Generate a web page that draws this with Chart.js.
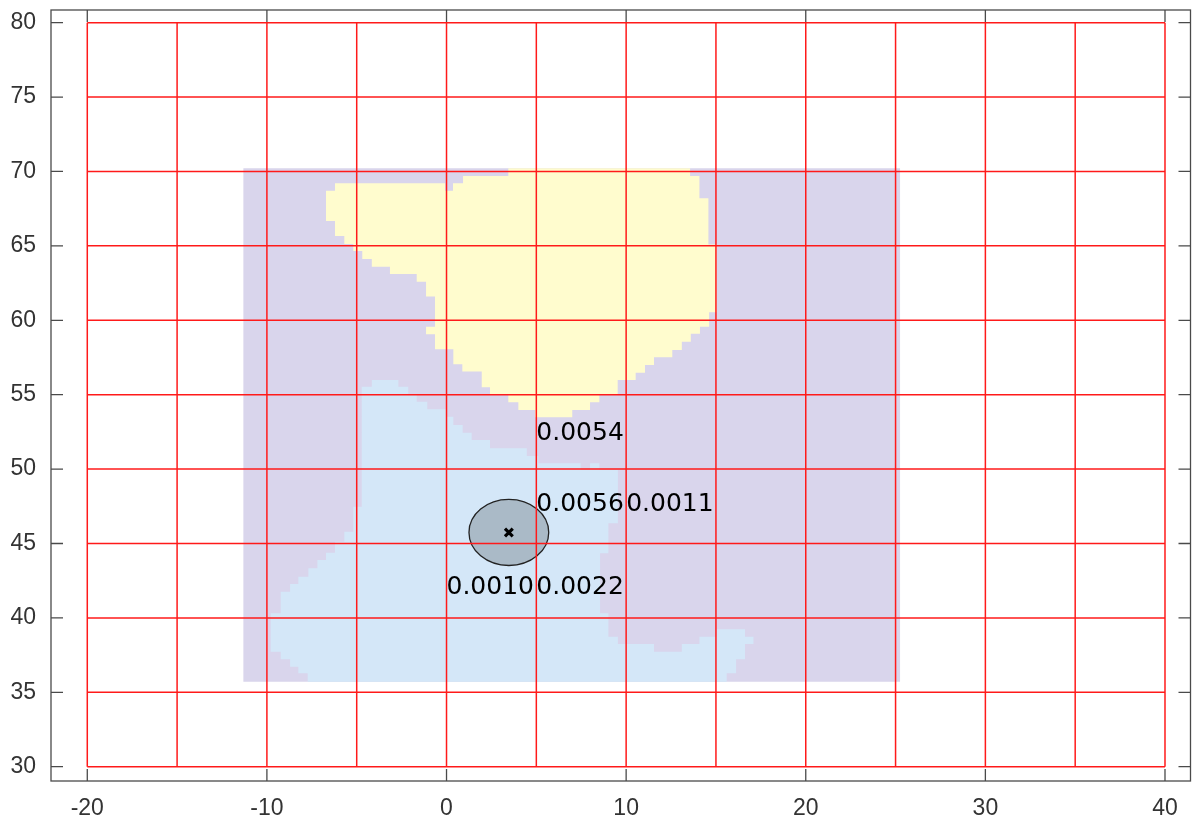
<!DOCTYPE html>
<html>
<head>
<meta charset="utf-8">
<script src="https://cdn.jsdelivr.net/npm/chart.js@4.4.1/dist/chart.umd.min.js"></script>
<style>
html, body { margin: 0; padding: 0; background: #fff; overflow: hidden; }
#wrap { width: 1193px; height: 819px; position: relative; }
canvas { display: block; }
</style>
</head>
<body>
<div id="wrap"><canvas id="myChart"></canvas></div>
<script>
// axis ticks and red reference grid
const xTicks = [-20, -10, 0, 10, 20, 30, 40];
const yTicks = [30, 35, 40, 45, 50, 55, 60, 65, 70, 75, 80];
const gridX = [-20, -15, -10, -5, 0, 5, 10, 15, 20, 25, 30, 35, 40];
const gridY = [30, 35, 40, 45, 50, 55, 60, 65, 70, 75, 80];

// background field (lavender rectangle)
const boxX = [-11.31, 25.25, 25.25, -11.31];
const boxY = [70.21, 70.21, 35.71, 35.71];

// upper region (yellow)
const yellowX = [-6.21, -0.08, -0.08, 0.36, 0.36, 0.92, 0.92, 3.44, 3.44, 13.56, 13.56, 14.08, 14.08, 14.58, 14.58, 15.04, 15.04, 14.62, 14.62, 14.11, 14.11, 13.60, 13.60, 13.10, 13.10, 12.57, 12.57, 11.55, 11.55, 11.05, 11.05, 10.53, 10.53, 9.53, 9.53, 8.51, 8.51, 7.99, 7.99, 7.00, 7.00, 4.93, 4.93, 4.00, 4.00, 3.44, 3.44, 2.42, 2.42, 1.96, 1.96, 0.88, 0.88, 0.38, 0.38, -0.64, -0.64, -1.14, -1.14, -0.64, -0.64, -1.14, -1.14, -1.66, -1.66, -3.15, -3.15, -4.16, -4.16, -4.69, -4.69, -5.19, -5.19, -5.69, -5.69, -6.21, -6.21, -6.71, -6.71, -6.21, -6.21];
const yellowY = [69.21, 69.21, 68.71, 68.71, 69.21, 69.21, 69.70, 69.70, 70.21, 70.21, 69.70, 69.70, 68.20, 68.20, 65.10, 65.10, 60.54, 60.54, 59.57, 59.57, 59.10, 59.10, 58.56, 58.56, 58.00, 58.00, 57.51, 57.51, 57.00, 57.00, 56.48, 56.48, 55.99, 55.99, 55.03, 55.03, 54.49, 54.49, 53.97, 53.97, 53.48, 53.48, 53.97, 53.97, 54.49, 54.49, 55.03, 55.03, 55.50, 55.50, 56.55, 56.55, 57.04, 57.04, 58.05, 58.05, 59.06, 59.06, 59.57, 59.57, 61.59, 61.59, 62.59, 62.59, 63.11, 63.11, 63.60, 63.60, 64.12, 64.12, 64.66, 64.66, 65.13, 65.13, 65.67, 65.67, 66.67, 66.67, 68.71, 68.71, 69.21];

// lower region (light blue)
const blueX = [-4.72, -4.16, -4.16, -2.68, -2.68, -2.13, -2.13, -1.66, -1.66, -1.07, -1.07, -0.03, -0.03, 0.38, 0.38, 0.90, 0.90, 1.40, 1.40, 2.42, 2.42, 4.47, 4.47, 5.11, 5.11, 7.47, 7.47, 7.99, 7.99, 8.51, 8.51, 9.54, 9.54, 9.01, 9.01, 8.55, 8.55, 9.01, 9.01, 9.54, 9.54, 11.55, 11.55, 13.10, 13.10, 14.08, 14.08, 15.04, 15.04, 16.62, 16.62, 17.09, 17.09, 16.62, 16.62, 16.12, 16.12, 15.60, 15.60, -7.73, -7.73, -8.25, -8.25, -8.71, -8.71, -9.23, -9.23, -9.79, -9.79, -9.23, -9.23, -8.71, -8.71, -8.25, -8.25, -7.69, -7.69, -7.19, -7.19, -6.71, -6.71, -6.21, -6.21, -5.69, -5.69, -5.19, -5.19, -4.72, -4.72];
const blueY = [55.54, 55.54, 55.99, 55.99, 55.54, 55.54, 55.05, 55.05, 54.53, 54.53, 54.02, 54.02, 53.52, 53.52, 52.96, 52.96, 52.45, 52.45, 51.96, 51.96, 51.40, 51.40, 50.88, 50.88, 50.39, 50.39, 49.94, 49.94, 50.39, 50.39, 49.94, 49.94, 46.36, 46.36, 44.34, 44.34, 40.31, 40.31, 38.74, 38.74, 38.25, 38.25, 37.73, 37.73, 38.25, 38.25, 38.74, 38.74, 39.23, 39.23, 38.74, 38.74, 38.25, 38.25, 37.22, 37.22, 36.28, 36.28, 35.71, 35.71, 36.28, 36.28, 36.72, 36.72, 37.22, 37.22, 37.73, 37.73, 40.31, 40.31, 41.76, 41.76, 42.28, 42.28, 42.77, 42.77, 43.33, 43.33, 43.89, 43.89, 44.38, 44.38, 45.12, 45.12, 45.79, 45.79, 47.47, 47.47, 55.54];

// estimate and its circle
const centreX = [3.47];
const centreY = [45.74];
const circleRadius = 2.22;

// value labels (left edge x, vertical centre y)
const labelText = ['0.0054', '0.0056', '0.0011', '0.0010', '0.0022'];
const labelX = [5, 5, 10, 0, 5];
const labelY = [52.55, 47.76, 47.76, 42.24, 42.24];

const toPoints = (xs, ys) => xs.map((x, i) => ({ x: x, y: ys[i] }));

const region = (label, xs, ys, colour, order) => ({
    label: label,
    data: toPoints(xs, ys),
    showLine: true,
    fill: 'shape',
    backgroundColor: colour,
    borderColor: 'transparent',
    borderWidth: 0,
    pointRadius: 0,
    tension: 0,
    order: order
});

const datasets = [
    region('field', boxX, boxY, 'rgb(217, 213, 236)', 6),
    region('upper', yellowX, yellowY, 'rgb(255, 252, 206)', 5),
    region('lower', blueX, blueY, 'rgb(212, 231, 248)', 4)
];

gridX.forEach(gx => {
    datasets.push({
        data: [{ x: gx, y: gridY[0] }, { x: gx, y: gridY[gridY.length - 1] }],
        showLine: true, borderColor: '#ff1a1a', borderWidth: 1.5,
        pointRadius: 0, order: 3
    });
});
gridY.forEach(gy => {
    datasets.push({
        data: [{ x: gridX[0], y: gy }, { x: gridX[gridX.length - 1], y: gy }],
        showLine: true, borderColor: '#ff1a1a', borderWidth: 1.5,
        pointRadius: 0, order: 3
    });
});

datasets.push({
    label: 'estimate',
    data: toPoints(centreX, centreY),
    pointStyle: 'crossRot',
    pointRadius: 5.5,
    pointBorderWidth: 3.2,
    pointBorderColor: '#000',
    showLine: false,
    order: 1
});

// circle drawn right after the lower region, below the grid
const circlePlugin = {
    id: 'circle',
    afterDatasetDraw(chart, args) {
        if (chart.data.datasets[args.index].label !== 'lower') return;
        const { ctx, scales: { x, y } } = chart;
        const cx = x.getPixelForValue(centreX[0]);
        const cy = y.getPixelForValue(centreY[0]);
        const rx = Math.abs(x.getPixelForValue(centreX[0] + circleRadius) - cx);
        const ry = Math.abs(y.getPixelForValue(centreY[0] + circleRadius) - cy);
        ctx.save();
        ctx.beginPath();
        ctx.ellipse(cx, cy, rx, ry, 0, 0, Math.PI * 2);
        ctx.fillStyle = 'rgb(170, 186, 199)';
        ctx.fill();
        ctx.lineWidth = 1.3;
        ctx.strokeStyle = '#222';
        ctx.stroke();
        ctx.restore();
    }
};

const labelPlugin = {
    id: 'valueLabels',
    afterDatasetsDraw(chart) {
        const { ctx, scales: { x, y } } = chart;
        ctx.save();
        ctx.font = '25px "DejaVu Sans", sans-serif';
        ctx.fillStyle = '#000';
        ctx.textAlign = 'left';
        ctx.textBaseline = 'alphabetic';
        labelText.forEach((t, i) => {
            ctx.fillText(t, x.getPixelForValue(labelX[i]), y.getPixelForValue(labelY[i]) + 9);
        });
        ctx.restore();
    }
};

// box round the plot with inward tick marks
const framePlugin = {
    id: 'frame',
    afterDraw(chart) {
        const { ctx, chartArea: a, scales: { x, y } } = chart;
        const len = 12;
        ctx.save();
        ctx.strokeStyle = '#4a4a4a';
        ctx.lineWidth = 1.3;
        ctx.strokeRect(a.left, a.top, a.right - a.left, a.bottom - a.top);
        ctx.beginPath();
        xTicks.forEach(v => {
            const px = x.getPixelForValue(v);
            ctx.moveTo(px, a.bottom); ctx.lineTo(px, a.bottom - len);
            ctx.moveTo(px, a.top); ctx.lineTo(px, a.top + len);
        });
        yTicks.forEach(v => {
            const py = y.getPixelForValue(v);
            ctx.moveTo(a.left, py); ctx.lineTo(a.left + len, py);
            ctx.moveTo(a.right, py); ctx.lineTo(a.right - len, py);
        });
        ctx.stroke();
        ctx.restore();
    }
};

const tickFont = { family: '"Liberation Sans", Arial, sans-serif', size: 23 };

const noPadding = s => {
    s.paddingLeft = 0; s.paddingRight = 0; s.paddingTop = 0; s.paddingBottom = 0;
};

new Chart(document.getElementById('myChart'), {
    type: 'scatter',
    data: { datasets: datasets },
    options: {
        responsive: true,
        maintainAspectRatio: false,
        animation: false,
        layout: { autoPadding: false, padding: { top: 10, right: 2.5, left: 0, bottom: 0 } },
        scales: {
            x: {
                type: 'linear',
                min: -22.02,
                max: 41.42,
                grid: { display: false, drawTicks: false },
                border: { display: false },
                afterBuildTicks: s => { s.ticks = xTicks.map(v => ({ value: v })); },
                afterFit: s => { s.height = 38; noPadding(s); },
                ticks: { font: tickFont, color: '#333', padding: 14, maxRotation: 0 }
            },
            y: {
                type: 'linear',
                min: 29.04,
                max: 80.85,
                grid: { display: false, drawTicks: false },
                border: { display: false },
                afterBuildTicks: s => { s.ticks = yTicks.map(v => ({ value: v })); },
                afterFit: s => { s.width = 51; noPadding(s); },
                ticks: { font: tickFont, color: '#333', padding: 15 }
            }
        },
        plugins: {
            legend: { display: false },
            tooltip: { enabled: false }
        }
    },
    plugins: [circlePlugin, labelPlugin, framePlugin]
});
</script>
</body>
</html>
